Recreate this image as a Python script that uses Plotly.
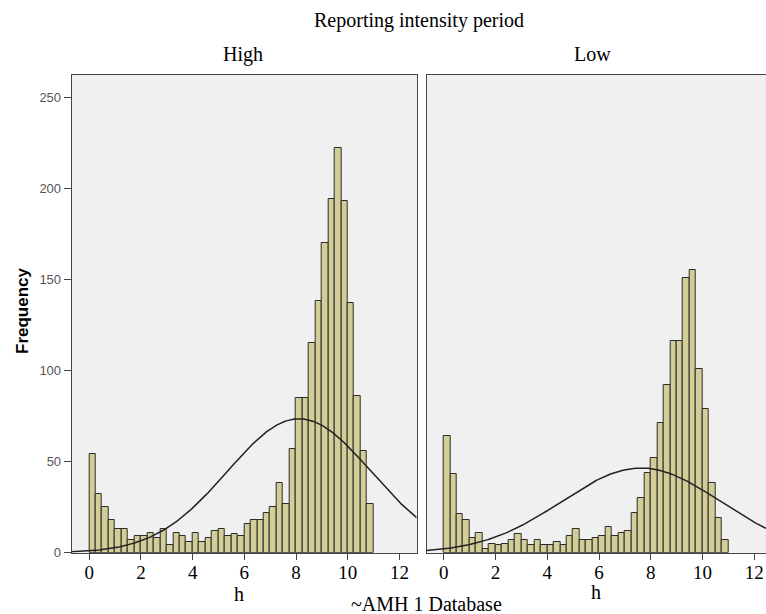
import numpy as np
import plotly.graph_objects as go

# ---- data ----
bin_start = 0.0
bin_width = 0.25
high_counts = [54, 32, 25, 18, 13, 13, 7, 9, 9, 11, 8, 13, 4, 11, 9, 6, 11, 6, 8, 12,
               13, 9, 10, 9, 16, 18, 18, 22, 25, 38, 27, 57, 85, 85, 115, 138, 170, 194, 222, 193,
               137, 86, 56, 27]
low_counts = [64, 43, 21, 18, 8, 11, 2, 5, 4, 5, 7, 10, 7, 4, 7, 4, 4, 6, 4, 9,
              13, 7, 7, 8, 9, 14, 9, 11, 12, 22, 30, 44, 52, 71, 92, 116, 116, 151, 155, 101,
              79, 38, 19, 7]
high_mean, high_sd = 8.12, 2.78
low_mean, low_sd = 7.62, 3.06
panel_labels = ["High", "Low"]
x_ticks = [0, 2, 4, 6, 8, 10, 12]
y_ticks = [0, 50, 100, 150, 200, 250]

W, H = 766, 614
def px(x):
    return x / W
def py(y):
    return 1 - y / H

BAR_FILL = "#D3CE97"
BAR_LINE = "#2b2b2b"
PANEL_BG = "#F0F0F0"
FRAME = "#444444"
SERIF = "Liberation Serif, Times New Roman, serif"
SANS = "Liberation Sans, Arial, sans-serif"

fig = go.Figure()

panels = [
    dict(counts=high_counts, mean=high_mean, sd=high_sd, xa="x", ya="y",
         xrange=[-0.68, 12.67]),
    dict(counts=low_counts, mean=low_mean, sd=low_sd, xa="x2", ya="y2",
         xrange=[-0.66, 12.45]),
]

for p in panels:
    counts = np.array(p["counts"], dtype=float)
    centers = bin_start + bin_width * (np.arange(len(counts)) + 0.5)
    fig.add_trace(go.Bar(
        x=centers, y=counts, width=bin_width,
        marker=dict(color=BAR_FILL, line=dict(color=BAR_LINE, width=1)),
        xaxis=p["xa"], yaxis=p["ya"], showlegend=False, hoverinfo="x+y",
    ))
    n = counts.sum()
    xs = np.linspace(p["xrange"][0], p["xrange"][1], 300)
    ys = n * bin_width / (p["sd"] * np.sqrt(2 * np.pi)) * np.exp(-0.5 * ((xs - p["mean"]) / p["sd"]) ** 2)
    fig.add_trace(go.Scatter(
        x=xs, y=ys, mode="lines", line=dict(color="#222222", width=1.5),
        xaxis=p["xa"], yaxis=p["ya"], showlegend=False, hoverinfo="skip",
        cliponaxis=True,
    ))

y_top = 75
y_bot = 552.7
ydom = [py(y_bot), py(y_top)]
yrange = [0, (y_bot - y_top) / 1.822]

common_x = dict(tickvals=x_ticks, ticks="outside", ticklen=6, tickcolor=FRAME,
                tickfont=dict(family=SERIF, size=19, color="black"),
                ticklabelstandoff=-4,
                showgrid=False, zeroline=False, showline=True, linecolor=FRAME,
                linewidth=1, mirror=True, automargin=False)

fig.update_layout(
    width=W, height=H,
    margin=dict(l=0, r=0, t=0, b=0, pad=0),
    paper_bgcolor="white",
    plot_bgcolor=PANEL_BG,
    bargap=0,
    xaxis=dict(domain=[px(71.7), px(416.7)], range=panels[0]["xrange"], anchor="y", **common_x),
    xaxis2=dict(domain=[px(426.7), 1.0], range=panels[1]["xrange"], anchor="y2", **common_x),
    yaxis=dict(domain=ydom, range=yrange, anchor="x", tickvals=y_ticks,
               ticks="outside", ticklen=7, tickcolor=FRAME,
               tickfont=dict(family=SANS, size=13, color="#555555"),
               showgrid=False, zeroline=False, showline=True, linecolor=FRAME,
               linewidth=1, mirror=True, automargin=False),
    yaxis2=dict(domain=ydom, range=yrange, anchor="x2", showticklabels=False,
                ticks="", showgrid=False, zeroline=False, showline=True,
                linecolor=FRAME, linewidth=1, mirror=False, automargin=False),
)

def ann(text, x, y, size, family=SERIF, angle=0, bold=False):
    fig.add_annotation(
        text=("<b>%s</b>" % text) if bold else text,
        x=px(x), y=py(y), xref="paper", yref="paper",
        xanchor="center", yanchor="middle", showarrow=False, textangle=angle,
        font=dict(family=family, size=size, color="black"),
    )

ann("Reporting intensity period", 419, 20, 20)
ann(panel_labels[0], 243, 54, 20)
ann(panel_labels[1], 592.5, 54, 20)
ann("h", 239, 594, 20)
ann("h", 596, 592, 20)
ann("~AMH 1 Database", 426, 604, 20)
ann("Frequency", 22, 311, 17, family=SANS, angle=-90, bold=True)

fig.write_html(
    "out.html",
    config={"displayModeBar": False},
    post_script="document.body.style.margin='0';document.body.style.overflow='hidden';",
)
